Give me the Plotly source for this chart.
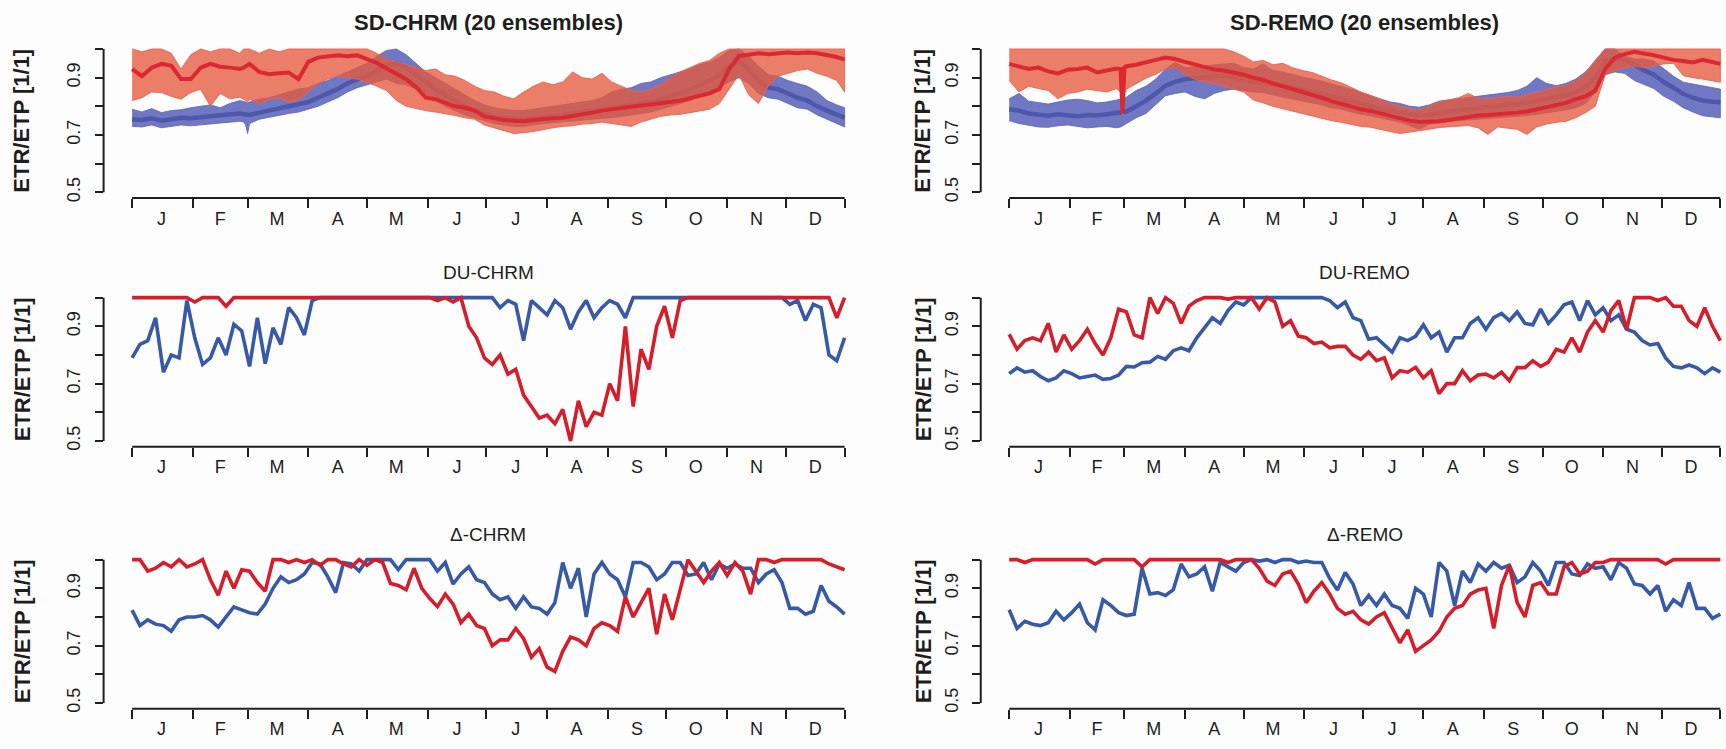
import plotly.graph_objects as go

W, H = 1726, 749

# ---------------------------------------------------------------- axes / labels
MONTH_EDGES = [1, 32, 60, 91, 121, 152, 182, 213, 244, 274, 305, 335, 365]
MONTH_MIDS = [16, 46, 75, 106, 136, 167, 197, 228, 259, 289, 320, 350]
MONTH_LABELS = ["J", "F", "M", "A", "M", "J", "J", "A", "S", "O", "N", "D"]
Y_TICKS = [0.5, 0.6, 0.7, 0.8, 0.9, 1.0]
Y_TICK_TEXT = ["0.5", "", "0.7", "", "0.9", ""]
Y_TITLE = "ETR/ETP [1/1]"
PANEL_TITLES = ["SD-CHRM (20 ensembles)", "SD-REMO (20 ensembles)",
                "DU-CHRM", "DU-REMO", "\u0394-CHRM", "\u0394-REMO"]

# ---------------------------------------------------------------- day grids
SD_DAYS = [1, 6, 11, 16, 21, 26, 31, 36, 41, 46, 51, 56, 58, 59, 60, 61, 66, 71, 76, 81,
           86, 91, 96, 101, 106, 111, 116, 121, 126, 131, 136, 141, 146, 151, 156, 161,
           166, 171, 176, 181, 186, 191, 196, 201, 206, 211, 216, 221, 226, 231, 236,
           241, 246, 251, 256, 261, 266, 271, 276, 281, 286, 291, 296, 301, 306, 311,
           316, 321, 326, 331, 336, 341, 346, 351, 356, 361, 365]
LINE_DAYS = list(range(1, 366, 4))

# ---------------------------------------------------------------- SD-CHRM ensemble spread
CHRM_BLUE_MED = [0.755, 0.752, 0.758, 0.750, 0.755, 0.760, 0.758,
                 0.762, 0.768, 0.770, 0.772, 0.775,
                 0.772, 0.770, 0.768,
                 0.770, 0.778, 0.785, 0.790, 0.800, 0.805,
                 0.815, 0.830, 0.845, 0.860, 0.880, 0.895,
                 0.905, 0.925, 0.945, 0.950, 0.935, 0.910, 0.885,
                 0.860, 0.840, 0.820, 0.800, 0.785, 0.775,
                 0.765, 0.760, 0.755, 0.755, 0.758, 0.762,
                 0.765, 0.770, 0.775, 0.780, 0.785, 0.790,
                 0.795, 0.800, 0.805, 0.810, 0.815, 0.825,
                 0.835, 0.845, 0.860, 0.875, 0.890, 0.910,
                 0.940, 0.955, 0.930, 0.890, 0.865, 0.860,
                 0.845, 0.830, 0.820, 0.800, 0.785, 0.770, 0.760]
CHRM_BLUE_LO = [0.730, 0.728, 0.735, 0.725, 0.730, 0.735, 0.732,
                0.735, 0.740, 0.742, 0.745, 0.748,
                0.745, 0.735, 0.705,
                0.740, 0.755, 0.760, 0.768, 0.775, 0.780,
                0.790, 0.800, 0.815, 0.830, 0.850, 0.865,
                0.875, 0.885, 0.895, 0.880, 0.875, 0.860, 0.840,
                0.820, 0.800, 0.785, 0.770, 0.760, 0.750,
                0.740, 0.735, 0.730, 0.730, 0.735, 0.740,
                0.742, 0.745, 0.750, 0.752, 0.755, 0.758,
                0.760, 0.765, 0.770, 0.775, 0.780, 0.790,
                0.800, 0.810, 0.820, 0.835, 0.850, 0.870,
                0.885, 0.900, 0.880, 0.845, 0.830, 0.825,
                0.810, 0.795, 0.790, 0.770, 0.755, 0.740, 0.728]
CHRM_BLUE_HI = [0.790, 0.780, 0.792, 0.778, 0.785, 0.788, 0.795,
                0.800, 0.805, 0.795, 0.810, 0.820,
                0.818, 0.815, 0.812,
                0.815, 0.825, 0.830, 0.840, 0.850, 0.860,
                0.865, 0.880, 0.890, 0.905, 0.920, 0.935,
                0.950, 0.975, 0.995, 1.000, 0.980, 0.950, 0.920,
                0.900, 0.880, 0.860, 0.840, 0.820, 0.805,
                0.795, 0.790, 0.785, 0.785, 0.790, 0.795,
                0.800, 0.805, 0.810, 0.815, 0.820, 0.830,
                0.850, 0.860, 0.865, 0.880, 0.885, 0.900,
                0.910, 0.920, 0.930, 0.945, 0.955, 0.970,
                0.995, 1.000, 0.975, 0.940, 0.910, 0.905,
                0.890, 0.880, 0.870, 0.850, 0.820, 0.805, 0.795]
CHRM_RED_MED = [0.930, 0.905, 0.935, 0.948, 0.942, 0.895, 0.895,
                0.935, 0.948, 0.938, 0.935, 0.930,
                0.935, 0.940, 0.945,
                0.948, 0.920, 0.912, 0.915, 0.918, 0.895,
                0.955, 0.970, 0.975, 0.978, 0.975, 0.978,
                0.965, 0.952, 0.932, 0.915, 0.895, 0.868, 0.830,
                0.825, 0.812, 0.800, 0.795, 0.785, 0.765,
                0.758, 0.752, 0.750, 0.748, 0.752, 0.756,
                0.758, 0.760, 0.765, 0.770, 0.778, 0.785,
                0.790, 0.795, 0.800, 0.803, 0.806, 0.810,
                0.815, 0.820, 0.828, 0.835, 0.845, 0.860,
                0.930, 0.975, 0.980, 0.985, 0.982, 0.985,
                0.988, 0.985, 0.988, 0.985, 0.980, 0.972, 0.963]
CHRM_RED_LO = [0.820, 0.830, 0.850, 0.848, 0.835, 0.825, 0.848,
               0.860, 0.800, 0.845, 0.826, 0.832,
               0.825, 0.820, 0.815,
               0.825, 0.808, 0.825, 0.830, 0.815, 0.820,
               0.850, 0.880, 0.895, 0.905, 0.900, 0.895,
               0.884, 0.870, 0.855, 0.820, 0.800, 0.792, 0.785,
               0.780, 0.775, 0.768, 0.760, 0.755, 0.735,
               0.725, 0.715, 0.705, 0.708, 0.712, 0.718,
               0.725, 0.730, 0.732, 0.738, 0.740, 0.745,
               0.740, 0.735, 0.730, 0.745, 0.755, 0.765,
               0.770, 0.772, 0.778, 0.785, 0.790, 0.810,
               0.860, 0.910, 0.840, 0.810, 0.870, 0.905,
               0.915, 0.925, 0.930, 0.915, 0.905, 0.890, 0.850]
CHRM_RED_HI = [1.000, 0.990, 1.000, 1.000, 0.985, 0.930, 0.980,
               1.000, 0.990, 1.000, 1.000, 0.985,
               1.000, 1.000, 1.000,
               1.000, 0.985, 1.000, 0.990, 1.000, 1.000,
               1.000, 1.000, 1.000, 1.000, 1.000, 1.000,
               1.000, 0.985, 0.965, 0.955, 0.945, 0.935, 0.925,
               0.930, 0.910, 0.905, 0.890, 0.870, 0.855,
               0.850, 0.835, 0.826, 0.850, 0.870, 0.885,
               0.875, 0.885, 0.920, 0.900, 0.895, 0.915,
               0.885, 0.870, 0.855, 0.850, 0.860, 0.875,
               0.900, 0.920, 0.935, 0.950, 0.960, 0.985,
               1.000, 1.000, 1.000, 1.000, 1.000, 1.000,
               1.000, 1.000, 1.000, 1.000, 1.000, 1.000, 1.000]

# ---------------------------------------------------------------- SD-REMO ensemble spread
REMO_BLUE_MED = [0.790, 0.785, 0.775, 0.770, 0.767, 0.772, 0.768,
                 0.765, 0.770, 0.768, 0.772, 0.778,
                 0.778, 0.779, 0.780,
                 0.782, 0.800, 0.820, 0.845, 0.872, 0.885,
                 0.895, 0.898, 0.900, 0.905, 0.907, 0.900,
                 0.892, 0.886, 0.884, 0.878, 0.870, 0.865, 0.858,
                 0.852, 0.845, 0.835, 0.825, 0.818, 0.810,
                 0.800, 0.792, 0.785, 0.778, 0.772, 0.768,
                 0.770, 0.775, 0.782, 0.786, 0.790, 0.792,
                 0.796, 0.800, 0.802, 0.806, 0.812, 0.820,
                 0.826, 0.833, 0.838, 0.850, 0.868, 0.900,
                 0.960, 0.965, 0.962, 0.945, 0.925, 0.910,
                 0.885, 0.865, 0.843, 0.830, 0.820, 0.816, 0.814]
REMO_BLUE_LO = [0.750, 0.740, 0.735, 0.728, 0.727, 0.732, 0.735,
                0.730, 0.725, 0.728, 0.730, 0.725,
                0.728, 0.730, 0.735,
                0.740, 0.760, 0.775, 0.805, 0.837, 0.845,
                0.850, 0.835, 0.826, 0.845, 0.855, 0.860,
                0.855, 0.850, 0.848, 0.840, 0.832, 0.825, 0.818,
                0.812, 0.805, 0.795, 0.790, 0.782, 0.772,
                0.767, 0.760, 0.752, 0.745, 0.732, 0.720,
                0.738, 0.742, 0.748, 0.750, 0.752, 0.755,
                0.758, 0.760, 0.762, 0.766, 0.768, 0.772,
                0.776, 0.782, 0.788, 0.795, 0.810, 0.850,
                0.910, 0.920, 0.915, 0.890, 0.875, 0.862,
                0.835, 0.818, 0.795, 0.780, 0.767, 0.764, 0.760]
REMO_BLUE_HI = [0.826, 0.845, 0.818, 0.812, 0.808, 0.815, 0.822,
                0.825, 0.820, 0.812, 0.815, 0.822,
                0.825, 0.828, 0.830,
                0.832, 0.855, 0.870, 0.895, 0.930, 0.953,
                0.935, 0.938, 0.940, 0.945, 0.948, 0.950,
                0.935, 0.930, 0.948, 0.925, 0.920, 0.910, 0.902,
                0.895, 0.888, 0.878, 0.870, 0.860, 0.848,
                0.837, 0.828, 0.815, 0.810, 0.800, 0.797,
                0.805, 0.818, 0.822, 0.826, 0.830, 0.835,
                0.838, 0.843, 0.848, 0.855, 0.870, 0.900,
                0.880, 0.872, 0.880, 0.895, 0.920, 0.960,
                1.000, 1.000, 0.975, 0.965, 0.965, 0.958,
                0.930, 0.905, 0.884, 0.878, 0.872, 0.865, 0.860]
REMO_RED_MED = [0.948, 0.940, 0.930, 0.935, 0.922, 0.915, 0.928,
                0.930, 0.935, 0.918, 0.925, 0.932,
                0.930, 0.775, 0.935,
                0.940, 0.945, 0.955, 0.962, 0.970, 0.965,
                0.955, 0.945, 0.935, 0.928, 0.925, 0.918,
                0.910, 0.900, 0.892, 0.880, 0.870, 0.862, 0.850,
                0.842, 0.830, 0.818, 0.808, 0.798, 0.790,
                0.784, 0.775, 0.765, 0.758, 0.750, 0.745,
                0.746, 0.748, 0.752, 0.758, 0.764, 0.768,
                0.770, 0.772, 0.775, 0.778, 0.782, 0.790,
                0.795, 0.805, 0.812, 0.825, 0.835, 0.855,
                0.930, 0.970, 0.982, 0.990, 0.985, 0.978,
                0.970, 0.962, 0.958, 0.953, 0.962, 0.955, 0.948]
REMO_RED_LO = [0.890, 0.850, 0.870, 0.862, 0.855, 0.826, 0.845,
               0.850, 0.860, 0.855, 0.850, 0.862,
               0.850, 0.770, 0.845,
               0.860, 0.880, 0.898, 0.912, 0.930, 0.935,
               0.910, 0.895, 0.884, 0.880, 0.870, 0.860,
               0.850, 0.822, 0.812, 0.800, 0.790, 0.782, 0.775,
               0.766, 0.758, 0.750, 0.744, 0.738, 0.730,
               0.727, 0.720, 0.712, 0.705, 0.712, 0.715,
               0.720, 0.726, 0.728, 0.730, 0.733, 0.725,
               0.702, 0.728, 0.725, 0.720, 0.702, 0.728,
               0.738, 0.744, 0.748, 0.760, 0.778, 0.800,
               0.910, 0.925, 0.935, 0.940, 0.935, 0.940,
               0.948, 0.950, 0.907, 0.900, 0.895, 0.890, 0.884]
REMO_RED_HI = [1.000, 1.000, 1.000, 1.000, 1.000, 1.000, 1.000,
               1.000, 1.000, 1.000, 1.000, 1.000,
               1.000, 1.000, 1.000,
               1.000, 1.000, 1.000, 1.000, 1.000, 1.000,
               1.000, 1.000, 1.000, 1.000, 1.000, 0.990,
               0.975, 0.955, 0.960, 0.945, 0.950, 0.935, 0.925,
               0.918, 0.905, 0.892, 0.882, 0.865, 0.850,
               0.838, 0.825, 0.810, 0.800, 0.792, 0.788,
               0.800, 0.815, 0.822, 0.830, 0.845, 0.828,
               0.826, 0.830, 0.835, 0.832, 0.840, 0.850,
               0.858, 0.868, 0.872, 0.890, 0.915, 0.960,
               1.000, 1.000, 1.000, 1.000, 1.000, 1.000,
               1.000, 1.000, 1.000, 1.000, 1.000, 1.000, 1.000]

# ---------------------------------------------------------------- DU single runs
DU_CHRM_BLUE = [0.790, 0.837, 0.850, 0.930, 0.740, 0.800, 0.790, 0.990, 0.860, 0.767,
                0.790, 0.860, 0.800, 0.907, 0.884, 0.760, 0.930, 0.770, 0.895, 0.837,
                0.965, 0.930, 0.870, 0.990, 1.000,
                1.000, 1.000, 1.000, 1.000, 1.000, 1.000, 1.000, 1.000, 1.000, 1.000, 1.000,
                1.000, 1.000, 1.000, 1.000, 1.000, 1.000, 1.000, 1.000, 1.000, 1.000, 1.000,
                0.965, 0.990, 0.977, 0.850, 0.990, 0.965, 0.940, 0.990, 0.965, 0.890,
                0.950, 0.990, 0.930, 0.965, 0.990, 0.977, 0.930, 1.000,
                1.000, 1.000, 1.000, 1.000, 1.000, 1.000, 1.000, 1.000, 1.000, 1.000,
                1.000, 1.000, 1.000, 1.000, 1.000, 1.000, 1.000, 1.000, 1.000,
                0.977, 0.990, 0.920, 0.977, 0.965, 0.800, 0.780, 0.860]
DU_CHRM_RED = [1.000, 1.000, 1.000, 1.000, 1.000, 1.000, 1.000, 1.000, 0.985, 1.000,
               1.000, 1.000, 0.970, 1.000, 1.000, 1.000, 1.000, 1.000, 1.000, 1.000,
               1.000, 1.000, 1.000, 1.000, 1.000, 1.000, 1.000, 1.000, 1.000, 1.000,
               1.000, 1.000, 1.000, 1.000, 1.000, 1.000, 1.000, 1.000,
               1.000, 0.990, 1.000, 0.985, 1.000, 0.900, 0.860, 0.790, 0.767, 0.800,
               0.733, 0.750, 0.660, 0.620, 0.580, 0.590, 0.560, 0.610, 0.500, 0.640,
               0.550, 0.600, 0.590, 0.700, 0.640, 0.900, 0.620, 0.820, 0.750, 0.900,
               0.970, 0.860, 0.990,
               1.000, 1.000, 1.000, 1.000, 1.000, 1.000, 1.000, 1.000, 1.000, 1.000,
               1.000, 1.000, 1.000, 1.000, 1.000, 1.000, 1.000, 1.000, 1.000,
               0.930, 1.000]
DU_REMO_BLUE = [0.735, 0.755, 0.740, 0.745, 0.725, 0.710, 0.720, 0.745, 0.735, 0.720,
                0.725, 0.730, 0.715, 0.718, 0.730, 0.760, 0.758, 0.773, 0.775, 0.795,
                0.785, 0.815, 0.825, 0.815, 0.860, 0.895, 0.930, 0.910, 0.955, 0.985,
                0.975,
                1.000, 1.000, 1.000, 1.000, 1.000, 1.000, 1.000, 1.000, 1.000, 1.000,
                0.990, 0.965, 0.985, 0.930, 0.920, 0.855, 0.860, 0.835, 0.810, 0.860,
                0.850, 0.865, 0.905, 0.860, 0.880, 0.810, 0.860, 0.860, 0.910, 0.930,
                0.890, 0.930, 0.945, 0.920, 0.950, 0.910, 0.905, 0.960, 0.910, 0.940,
                0.975, 0.985, 0.920, 0.990, 0.940, 0.965, 0.920, 0.940, 0.890, 0.880,
                0.850, 0.835, 0.840, 0.790, 0.760, 0.755, 0.765, 0.755, 0.735, 0.755,
                0.740]
DU_REMO_RED = [0.872, 0.820, 0.850, 0.860, 0.850, 0.910, 0.810, 0.870, 0.820, 0.850,
               0.890, 0.840, 0.800, 0.860, 0.960, 0.950, 0.870, 0.860, 1.000, 0.945,
               1.000, 0.980, 0.910, 0.970, 0.990, 1.000, 1.000, 1.000, 0.995, 1.000,
               1.000, 1.000, 0.960, 1.000, 0.985, 0.900, 0.920, 0.866, 0.860, 0.840,
               0.845, 0.825, 0.830, 0.830, 0.800, 0.785, 0.810, 0.780, 0.790, 0.720,
               0.745, 0.740, 0.757, 0.720, 0.745, 0.665, 0.700, 0.700, 0.745, 0.710,
               0.730, 0.733, 0.720, 0.740, 0.710, 0.756, 0.756, 0.780, 0.760, 0.775,
               0.820, 0.810, 0.860, 0.810, 0.880, 0.920, 0.880, 0.955, 0.990, 0.890,
               1.000, 1.000, 1.000, 0.990, 1.000, 0.970, 0.970, 0.920, 0.900, 0.965,
               0.900, 0.850]

# ---------------------------------------------------------------- delta-change runs
DELTA_CHRM_BLUE = [0.824, 0.770, 0.790, 0.775, 0.770, 0.750, 0.790, 0.800, 0.800, 0.805,
                   0.790, 0.765, 0.800, 0.835, 0.825, 0.815, 0.810, 0.845, 0.900, 0.940,
                   0.920, 0.930, 0.950, 0.990, 0.985,
                   0.940, 0.885, 0.990, 0.985, 0.960,
                   1.000, 1.000, 1.000, 1.000, 0.965, 1.000, 1.000, 1.000, 1.000,
                   0.960, 0.990, 0.915, 0.950, 0.975, 0.930, 0.920, 0.880, 0.860, 0.870,
                   0.830, 0.870, 0.835, 0.830, 0.810, 0.850, 0.990, 0.900, 0.970, 0.800,
                   0.950, 0.990, 0.950, 0.930, 0.870, 0.990, 0.990, 0.975, 0.930, 0.950,
                   0.990, 0.990, 0.945, 0.950, 0.990, 0.930, 0.985, 0.970, 0.985, 0.970,
                   0.970, 0.920, 0.950, 0.965, 0.920, 0.830, 0.830, 0.810, 0.820, 0.910,
                   0.855, 0.835, 0.810]
DELTA_CHRM_RED = [1.000, 1.000, 0.960, 0.970, 0.990, 0.975, 1.000, 0.975, 0.985, 1.000,
                  0.930, 0.876, 0.960, 0.900, 0.965, 0.960, 0.920, 0.890, 1.000, 1.000,
                  0.990, 1.000, 0.990, 1.000, 0.980, 1.000, 1.000, 0.985, 0.975, 1.000,
                  0.980, 1.000, 0.990, 0.917, 0.910, 0.895, 0.970, 0.900, 0.865, 0.836,
                  0.880, 0.845, 0.780, 0.810, 0.770, 0.760, 0.700, 0.720, 0.720, 0.760,
                  0.725, 0.660, 0.690, 0.625, 0.610, 0.680, 0.730, 0.720, 0.700, 0.760,
                  0.780, 0.770, 0.750, 0.870, 0.800, 0.850, 0.900, 0.740, 0.880, 0.790,
                  0.900, 1.000, 0.960, 0.920, 0.960, 0.990, 0.945, 0.990, 0.960, 0.880,
                  1.000, 1.000, 0.990, 1.000, 1.000, 1.000, 1.000, 1.000, 1.000, 0.985,
                  0.975, 0.965]
DELTA_REMO_BLUE = [0.825, 0.760, 0.785, 0.775, 0.770, 0.780, 0.820, 0.790, 0.815, 0.845,
                   0.780, 0.755, 0.860, 0.840, 0.815, 0.805, 0.810, 0.970, 0.880, 0.885,
                   0.875, 0.895, 0.985, 0.940, 0.950, 0.975, 0.890, 0.990, 0.975, 0.960,
                   0.990, 1.000, 0.995, 1.000, 0.990, 1.000, 1.000, 0.990, 0.995, 0.990,
                   0.990, 0.935, 0.894, 0.955, 0.915, 0.840, 0.875, 0.840, 0.880, 0.840,
                   0.830, 0.795, 0.900, 0.880, 0.800, 0.990, 0.960, 0.840, 0.960, 0.920,
                   0.985, 0.960, 0.990, 0.970, 0.980, 0.920, 0.940, 0.990, 0.960, 0.910,
                   0.990, 0.990, 0.950, 0.945, 0.985, 0.970, 0.975, 0.930, 0.990, 0.970,
                   0.915, 0.910, 0.880, 0.910, 0.820, 0.860, 0.840, 0.920, 0.830, 0.830,
                   0.795, 0.810]
DELTA_REMO_RED = [1.000, 1.000, 0.990, 1.000, 1.000, 1.000, 1.000, 1.000, 1.000, 1.000,
                  1.000, 0.985, 1.000, 1.000, 1.000, 1.000, 1.000, 0.975, 1.000, 1.000,
                  1.000, 1.000, 1.000, 1.000, 1.000, 1.000, 1.000, 1.000, 0.990, 1.000,
                  1.000, 1.000,
                  0.970, 0.925, 0.910, 0.950, 0.960, 0.915, 0.850, 0.890, 0.920, 0.880,
                  0.830, 0.810, 0.820, 0.790, 0.775, 0.800, 0.815, 0.765, 0.710, 0.755,
                  0.680, 0.700, 0.720, 0.750, 0.800, 0.830, 0.840, 0.880, 0.894, 0.900,
                  0.760, 0.910, 0.980, 0.850, 0.800, 0.910, 0.920, 0.880, 0.880, 0.975,
                  0.990, 0.950, 0.960, 0.990, 0.990,
                  1.000, 1.000, 1.000, 1.000, 1.000, 1.000, 1.000, 0.985,
                  1.000, 1.000, 1.000, 1.000, 1.000, 1.000, 1.000]

for arr in (CHRM_BLUE_MED, CHRM_BLUE_LO, CHRM_BLUE_HI, CHRM_RED_MED, CHRM_RED_LO,
            CHRM_RED_HI, REMO_BLUE_MED, REMO_BLUE_LO, REMO_BLUE_HI, REMO_RED_MED,
            REMO_RED_LO, REMO_RED_HI):
    assert len(arr) == len(SD_DAYS), len(arr)
for arr in (DU_CHRM_BLUE, DU_CHRM_RED, DU_REMO_BLUE, DU_REMO_RED, DELTA_CHRM_BLUE,
            DELTA_CHRM_RED, DELTA_REMO_BLUE, DELTA_REMO_RED):
    assert len(arr) == len(LINE_DAYS), len(arr)

# ---------------------------------------------------------------- styling
FONT = "Liberation Sans, Arial, Helvetica, sans-serif"
INK = "#1e1e1e"
BLUE_LINE = "rgb(55,90,168)"
RED_LINE = "rgb(214,30,42)"
BLUE_FILL = "rgba(88,98,186,0.86)"
BLUE_EDGE = "rgba(95,105,190,0.9)"
BLUE_MED = "rgb(78,88,170)"
RED_FILL = "rgba(230,90,62,0.78)"
RED_EDGE = "rgba(236,98,78,0.9)"
RED_MED = "rgb(220,40,48)"

# plot-region pixel boxes (left, right) per column and (top, bottom) per row
COLS = [dict(px=(103.6, 873.1), xr=[-13.56, 379.56]),
        dict(px=(980.75, 1726.0), xr=[-13.56, 367.9])]
ROWS = [(43.5, 199.1), (293.5, 449.1), (556.9, 712.5)]
Y_RANGE = [0.48, 1.02]
TITLE_Y = [23, 274, 537]
YLAB_X = [22, 923]

fig = go.Figure()


def axis_names(i):
    return ("x" if i == 1 else f"x{i}"), ("y" if i == 1 else f"y{i}")


def add_band(i, lo, hi, fill, edge):
    xa, ya = axis_names(i)
    fig.add_trace(go.Scatter(
        x=SD_DAYS + SD_DAYS[::-1], y=hi + lo[::-1], xaxis=xa, yaxis=ya,
        mode="lines", fill="toself", fillcolor=fill,
        line=dict(color=edge, width=1), hoverinfo="skip", showlegend=False))


def add_line(i, days, vals, color, width):
    xa, ya = axis_names(i)
    fig.add_trace(go.Scatter(
        x=days, y=vals, xaxis=xa, yaxis=ya, mode="lines",
        line=dict(color=color, width=width), hoverinfo="skip", showlegend=False))


# SD panels: 20-member ensemble spread with median
add_band(1, CHRM_BLUE_LO, CHRM_BLUE_HI, BLUE_FILL, BLUE_EDGE)
add_line(1, SD_DAYS, CHRM_BLUE_MED, BLUE_MED, 4.5)
add_band(1, CHRM_RED_LO, CHRM_RED_HI, RED_FILL, RED_EDGE)
add_line(1, SD_DAYS, CHRM_RED_MED, RED_MED, 4)

add_band(2, REMO_BLUE_LO, REMO_BLUE_HI, BLUE_FILL, BLUE_EDGE)
add_line(2, SD_DAYS, REMO_BLUE_MED, BLUE_MED, 4.5)
add_band(2, REMO_RED_LO, REMO_RED_HI, RED_FILL, RED_EDGE)
add_line(2, SD_DAYS, REMO_RED_MED, RED_MED, 4)

# DU and delta panels: single series
for i, (b, r) in zip((3, 4, 5, 6), ((DU_CHRM_BLUE, DU_CHRM_RED), (DU_REMO_BLUE, DU_REMO_RED),
                                    (DELTA_CHRM_BLUE, DELTA_CHRM_RED),
                                    (DELTA_REMO_BLUE, DELTA_REMO_RED))):
    add_line(i, LINE_DAYS, b, BLUE_LINE, 3.6)
    add_line(i, LINE_DAYS, r, RED_LINE, 3.6)

layout = dict(width=W, height=H, margin=dict(l=0, r=0, t=0, b=0),
              paper_bgcolor="#fdfdfd", plot_bgcolor="#fdfdfd",
              font=dict(family=FONT, color=INK), showlegend=False)
shapes, annotations = [], []
for i in range(1, 7):
    r, c = (i - 1) // 2, (i - 1) % 2
    col = COLS[c]
    top, bot = ROWS[r]
    xa, ya = axis_names(i)
    xkey = "xaxis" if i == 1 else f"xaxis{i}"
    ykey = "yaxis" if i == 1 else f"yaxis{i}"
    layout[xkey] = dict(
        domain=[col["px"][0] / W, col["px"][1] / W], range=col["xr"], anchor=ya,
        showgrid=False, zeroline=False, showline=False, fixedrange=True,
        tickmode="array", tickvals=MONTH_MIDS, ticktext=MONTH_LABELS,
        ticks="outside", ticklen=0, tickfont=dict(size=18, color=INK),
        ticklabelstandoff=4,
        minor=dict(tickmode="array", tickvals=MONTH_EDGES, ticks="outside",
                   ticklen=9, tickwidth=2, tickcolor=INK, showgrid=False))
    layout[ykey] = dict(
        domain=[1 - bot / H, 1 - top / H], range=Y_RANGE, anchor=xa,
        showgrid=False, zeroline=False, showline=False, fixedrange=True,
        tickmode="array", tickvals=Y_TICKS, ticktext=Y_TICK_TEXT, tickangle=-90,
        ticks="outside", ticklen=8, tickwidth=2, tickcolor=INK,
        tickfont=dict(size=18, color=INK), ticklabelstandoff=7)
    # axis lines spanning only the data extent
    shapes.append(dict(type="line", xref=xa, yref=f"{ya} domain", x0=MONTH_EDGES[0],
                       x1=MONTH_EDGES[-1], y0=0, y1=0, line=dict(color=INK, width=2)))
    shapes.append(dict(type="line", xref=f"{xa} domain", yref=ya, x0=0, x1=0,
                       y0=Y_TICKS[0], y1=Y_TICKS[-1], line=dict(color=INK, width=2)))
    # panel title
    cx = (col["px"][0] + (873.1 if c == 0 else 1749.0)) / 2
    bold = r == 0
    annotations.append(dict(
        text=f"<b>{PANEL_TITLES[i - 1]}</b>" if bold else PANEL_TITLES[i - 1],
        xref="paper", yref="paper", x=cx / W, y=1 - TITLE_Y[r] / H,
        xanchor="center", yanchor="middle", showarrow=False,
        font=dict(size=22 if bold else 19, color=INK)))
    # y-axis title
    annotations.append(dict(
        text=f"<b>{Y_TITLE}</b>", xref="paper", yref="paper",
        x=YLAB_X[c] / W, y=1 - (top + bot) / 2 / H, textangle=-90,
        xanchor="center", yanchor="middle", showarrow=False,
        font=dict(size=22, color=INK)))

layout["shapes"] = shapes
layout["annotations"] = annotations
fig.update_layout(**layout)
fig.write_html("out.html")
